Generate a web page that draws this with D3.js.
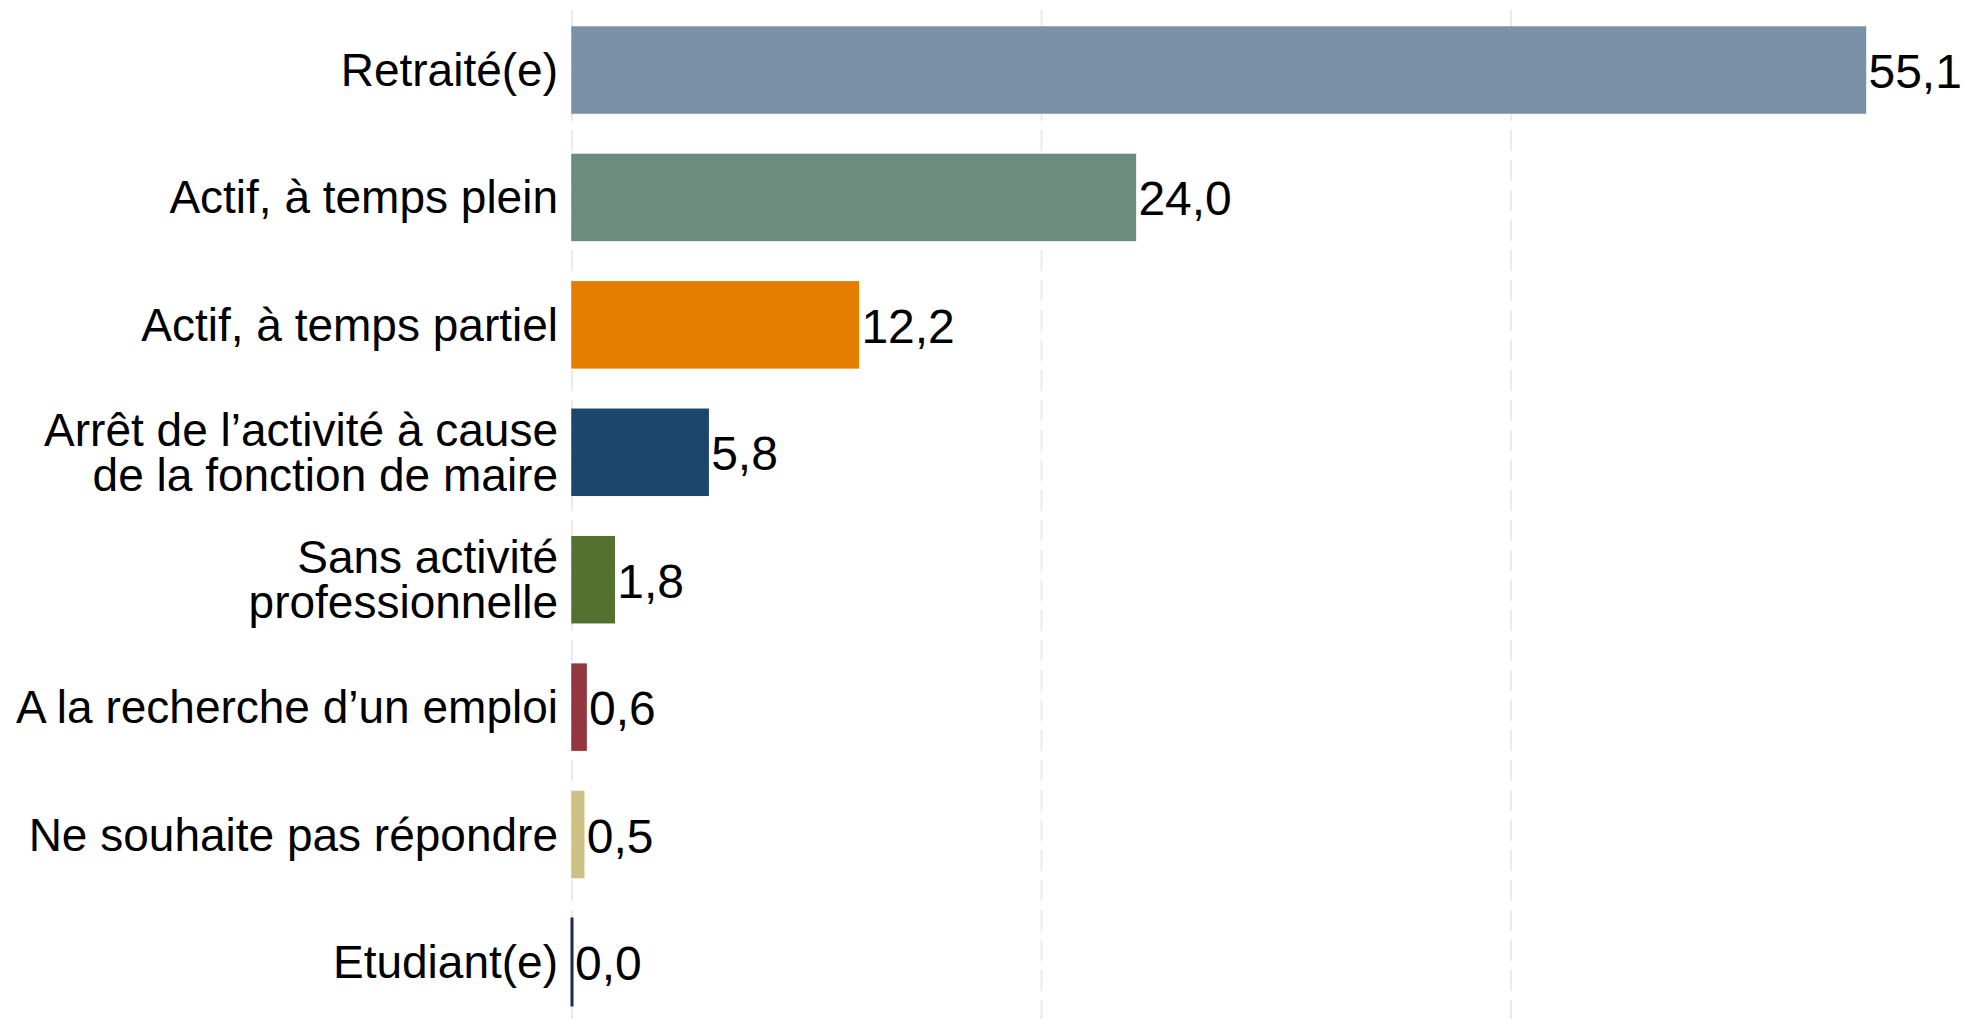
<!DOCTYPE html>
<html lang="fr">
	<head>
		<meta charset="utf-8">
		<title>Situation professionnelle</title>
		<script type="text/javascript" src="https://cdn.jsdelivr.net/npm/d3@7"></script>
		<style type="text/css">
			body { margin: 0; background: #fff; }
			svg { display: block; }
			text { font-family: "Liberation Sans", Arial, sans-serif; fill: #000; }
		</style>
	</head>
	<body>
		<script type="text/javascript">

			// categories, lines of each label, values and colours
			var categories = ["Retraité(e)", "Actif, à temps plein", "Actif, à temps partiel",
				"Arrêt de l'activité à cause de la fonction de maire", "Sans activité professionnelle",
				"A la recherche d'un emploi", "Ne souhaite pas répondre", "Etudiant(e)"]
			var labelLines = [["Retraité(e)"], ["Actif, à temps plein"], ["Actif, à temps partiel"],
				["Arrêt de l\u2019activité à cause", "de la fonction de maire"],
				["Sans activité", "professionnelle"],
				["A la recherche d\u2019un emploi"], ["Ne souhaite pas répondre"], ["Etudiant(e)"]]
			var values = [55.1, 24.0, 12.2, 5.8, 1.8, 0.6, 0.5, 0.0]
			var colors = ["#7b91a8", "#6b8c7e", "#e57e00", "#1c466e", "#557130", "#933640", "#cdc283", "#1f2b50"]
			var gridTicks = [0, 20, 40, 60]

			var w = 1965, h = 1019

			var svg = d3.select("body").append("svg").attr("width", w).attr("height", h)

			var xScale = d3.scaleLinear()
				.domain([0, 60])
				.range([572, 572 + 60 * 23.475])

			var yScale = d3.scaleBand()
				.domain(d3.range(categories.length))
				.range([-14.4, 1046.4])
				.padding(0.325)

			var fmt = function(v) {
				return v.toFixed(1).replace(".", ",")
			}

			// dashed vertical gridlines
			svg.selectAll(".grid")
				.data(gridTicks)
				.enter()
				.append("line")
				.attr("class", "grid")
				.attr("x1", function(d) { return xScale(d); })
				.attr("x2", function(d) { return xScale(d); })
				.attr("y1", 10)
				.attr("y2", h)
				.attr("stroke", "#ebebeb")
				.attr("stroke-width", 2)
				.attr("stroke-dasharray", "21,9")

			// a zero value still shows as a thin line, so keep a tiny width
			svg.selectAll(".bar")
				.data(values)
				.enter()
				.append("rect")
				.attr("class", "bar")
				.attr("x", xScale(0))
				.attr("y", function(d, i) { return yScale(i); })
				.attr("width", function(d) { return Math.max(xScale(d) - xScale(0), 0.01); })
				.attr("height", yScale.bandwidth())
				.attr("fill", function(d, i) { return colors[i]; })
				.attr("stroke", function(d, i) { return colors[i]; })
				.attr("stroke-width", function(d) { return d == 0 ? 3 : 1.5; })

			svg.selectAll(".value")
				.data(values)
				.enter()
				.append("text")
				.attr("class", "value")
				.attr("x", function(d) { return xScale(d) + 3; })
				.attr("y", function(d, i) { return yScale(i) + yScale.bandwidth() / 2 + 18; })
				.attr("font-size", "48px")
				.text(function(d) { return fmt(d); })

			// category labels, one or two lines, right aligned
			var labels = svg.selectAll(".label")
				.data(labelLines)
				.enter()
				.append("text")
				.attr("class", "label")
				.attr("text-anchor", "end")
				.attr("font-size", "46px")

			labels.selectAll("tspan")
				.data(function(d, i) {
					return d.map(function(s, k) { return {s: s, k: k, n: d.length, i: i}; })
				})
				.enter()
				.append("tspan")
				.attr("x", 558)
				.attr("y", function(d) {
					var c = yScale(d.i) + yScale.bandwidth() / 2
					return c + 16 + (d.k - (d.n - 1) / 2) * 45
				})
				.text(function(d) { return d.s; })

		</script>
	</body>
</html>
